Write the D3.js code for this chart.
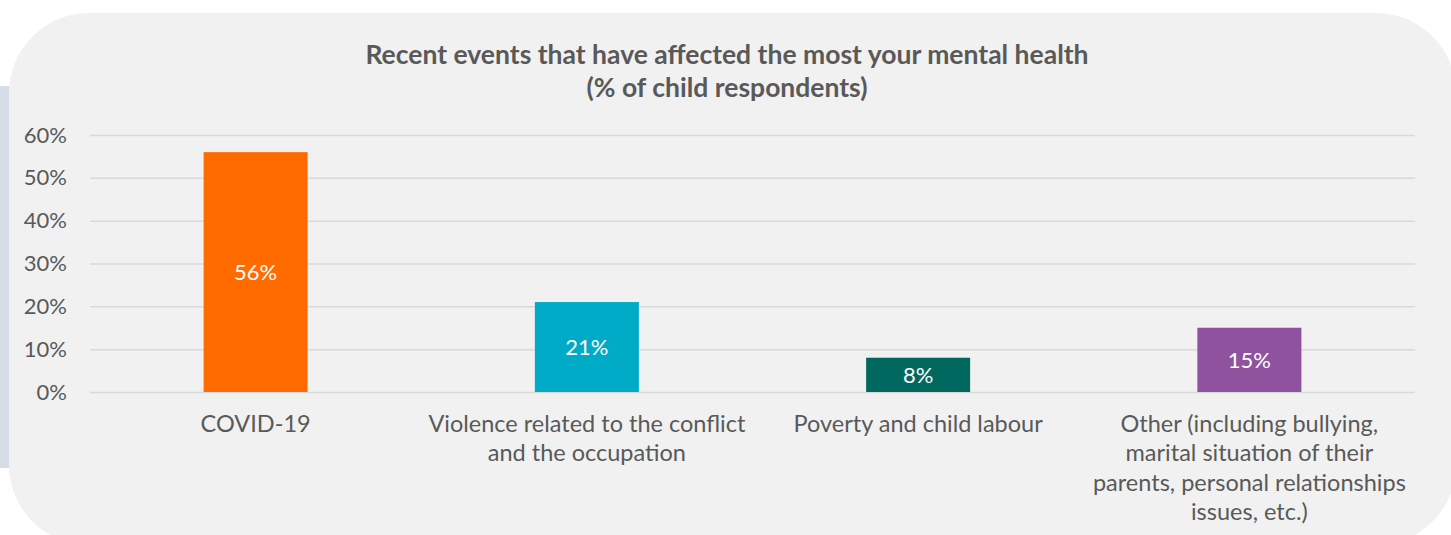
<!DOCTYPE html>
<html><head><meta charset="utf-8">
<script src="https://cdn.jsdelivr.net/npm/d3@7"></script>
<style>html,body{margin:0;padding:0;background:#fff;}svg{display:block;font-family:Lato,"Open Sans",sans-serif;}</style>
</head><body>
<svg id="chart" width="1451" height="535"></svg>
<script>
const categories = ["COVID-19", "Violence related to the conflict and the occupation", "Poverty and child labour", "Other (including bullying, marital situation of their parents, personal relationships issues, etc.)"];
const categoryLines = [["COVID-19"], ["Violence related to the conflict", "and the occupation"], ["Poverty and child labour"], ["Other (including bullying,", "marital situation of their", "parents, personal relationships", "issues, etc.)"]];
const values = [0.56, 0.21, 0.08, 0.15];
const colors = ["#FF6B00", "#00ABC8", "#00685F", "#8E529E"];
const yTicks = [0, 0.1, 0.2, 0.3, 0.4, 0.5, 0.6];
const titleLines = ["Recent events that have affected the most your mental health", "(% of child respondents)"];

const svg = d3.select("#chart");
// side strip
svg.append("rect").attr("x", 0).attr("y", 86).attr("width", 12).attr("height", 382).attr("fill", "#D6DDE6");
// rounded panel
svg.append("rect").attr("x", 9).attr("y", 13).attr("width", 1447).attr("height", 532).attr("rx", 80).attr("ry", 80).attr("fill", "#F1F1F1");

const m = {left: 90, right: 1415, top: 135, bottom: 392};
const x = d3.scaleBand().domain(categories).range([m.left, m.right]).padding(0);
const y = d3.scaleLinear().domain([0, 0.6]).range([m.bottom, m.top]);
const barW = x.bandwidth() * 0.314;

// gridlines + y ticks
const yAxis = d3.axisLeft(y).tickValues(yTicks).tickFormat(d3.format(".0%")).tickSize(-(m.right - m.left)).tickPadding(23);
const gy = svg.append("g").attr("transform", `translate(${m.left},0)`).call(yAxis);
gy.select(".domain").remove();
gy.selectAll(".tick line").attr("stroke", "#D9D9D9").attr("stroke-width", 1.5);
gy.selectAll(".tick text").attr("fill", "#595959").attr("font-size", 22).attr("font-family", "Lato");

// bars
svg.append("g").selectAll("rect").data(values).join("rect")
  .attr("x", (d, i) => x(categories[i]) + x.bandwidth() / 2 - barW / 2)
  .attr("y", d => y(d))
  .attr("width", barW)
  .attr("height", d => y(0) - y(d))
  .attr("fill", (d, i) => colors[i]);

// value labels
svg.append("g").selectAll("text").data(values).join("text")
  .attr("x", (d, i) => x(categories[i]) + x.bandwidth() / 2)
  .attr("y", d => (y(d) + y(0)) / 2)
  .attr("dy", "0.35em")
  .attr("text-anchor", "middle")
  .attr("fill", "#FFFFFF")
  .attr("font-size", 22)
  .text(d => d3.format(".0%")(d));

// category labels
const xl = svg.append("g");
categories.forEach((c, i) => {
  const t = xl.append("text").attr("text-anchor", "middle").attr("fill", "#595959").attr("font-size", 23.5)
    .attr("x", x(c) + x.bandwidth() / 2).attr("y", m.bottom + 40);
  categoryLines[i].forEach((ln, j) => {
    t.append("tspan").attr("x", x(c) + x.bandwidth() / 2).attr("dy", j === 0 ? 0 : 29.3).text(ln);
  });
});

// title
const tt = svg.append("text").attr("text-anchor", "middle").attr("fill", "#595959").attr("font-size", 26.5).attr("font-weight", "bold")
  .attr("x", 727).attr("y", 64);
titleLines.forEach((ln, j) => tt.append("tspan").attr("x", 727).attr("dy", j === 0 ? 0 : 33).text(ln));
</script>
</body></html>
